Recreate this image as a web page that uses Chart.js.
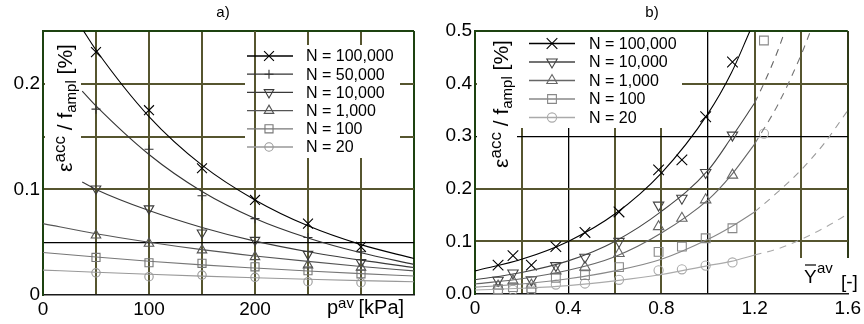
<!DOCTYPE html>
<html><head><meta charset="utf-8">
<script src="https://cdn.jsdelivr.net/npm/chart.js@4.4.1/dist/chart.umd.min.js"></script>
<style>
html,body{margin:0;padding:0;background:#fff;}
#wrap{position:relative;width:864px;height:324px;overflow:hidden;}
.pane{position:absolute;top:0;width:432px;height:324px;}
</style></head><body>
<div id="wrap">
<div class="pane" style="left:0"><canvas id="ca" width="432" height="324"></canvas></div>
<div class="pane" style="left:432px"><canvas id="cb" width="432" height="324"></canvas></div>
</div>
<script>
// ---------- Panel a) data ----------
const aPressure = [50, 100, 150, 200, 250, 300];
const aMeas100k = [0.230, 0.175, 0.120, 0.090, 0.0676, 0.0456];
const aMeas50k  = [0.176, 0.138, 0.094, 0.0723, 0.0544, 0.041];
const aMeas10k  = [0.1006, 0.0818, 0.059, 0.052, 0.0387, 0.031];
const aMeas1k   = [0.0566, 0.0488, 0.0425, 0.0361, 0.0283, 0.026];
const aMeas100  = [0.0356, 0.0305, 0.030, 0.0267, 0.023, 0.020];
const aMeas20   = [0.021, 0.0173, 0.0189, 0.0167, 0.0126, 0.0116];
const aFitXHigh = [37, 50, 100, 150, 200, 250, 300, 350];
const aFitXLow  = [0, 50, 100, 150, 200, 250, 300, 350];
const aFit100k = [0.252, 0.232, 0.169, 0.123, 0.090, 0.0655, 0.0477, 0.0345];
const aFit50k  = [0.193, 0.179, 0.133, 0.098, 0.0725, 0.054, 0.040, 0.029];
const aFit10k  = [0.107, 0.100, 0.080, 0.064, 0.051, 0.041, 0.033, 0.026];
const aFit1k   = [0.0676, 0.058, 0.050, 0.043, 0.037, 0.0318, 0.027, 0.0228];
const aFit100  = [0.0403, 0.036, 0.032, 0.0285, 0.0255, 0.0227, 0.0202, 0.018];
const aFit20   = [0.0236, 0.0215, 0.0196, 0.0179, 0.0163, 0.0149, 0.0136, 0.0126];
const aXTickLabels = [0, 100, 200];
const aYTickLabels = [0, 0.1, 0.2];
const aLegendLabels = ['N = 100,000', 'N = 50,000', 'N = 10,000', 'N = 1,000', 'N = 100', 'N = 20'];

// ---------- Panel b) data ----------
const bYav = [0.099, 0.163, 0.242, 0.347, 0.472, 0.618, 0.788, 0.888, 0.99, 1.105];
const bMeas100k = [0.055, 0.073, 0.055, 0.090, 0.117, 0.156, 0.236, 0.255, 0.337, 0.441];
const bMeas10k  = [0.026, 0.040, 0.027, 0.054, 0.070, 0.100, 0.169, 0.182, 0.231, 0.302];
const bMeas1k   = [0.015, 0.025, 0.017, 0.044, 0.051, 0.077, 0.128, 0.144, 0.179, 0.226];
const bMeas100  = [0.009, 0.013, 0.011, 0.031, 0.036, 0.051, 0.080, 0.090, 0.106, 0.125];
const bMeas20   = [0.006, 0.008, 0.007, 0.018, 0.020, 0.027, 0.045, 0.047, 0.054, 0.060];
const bExtraX = [1.24];
const bExtra100 = [0.482];
const bExtra20 = [0.305];
const bFitX100k = [0, 0.2, 0.4, 0.6, 0.8, 1.0, 1.1, 1.18];
const bFitX = [0, 0.2, 0.4, 0.6, 0.8, 1.0, 1.1, 1.2];
const bFit100k = [0.044, 0.066, 0.100, 0.152, 0.230, 0.343, 0.420, 0.500];
const bFit10k  = [0.027, 0.041, 0.063, 0.100, 0.157, 0.235, 0.297, 0.363];
const bFit1k   = [0.019, 0.029, 0.045, 0.071, 0.116, 0.179, 0.226, 0.285];
const bFit100  = [0.013, 0.019, 0.029, 0.044, 0.066, 0.104, 0.128, 0.156];
const bFit20   = [0.0076, 0.011, 0.016, 0.025, 0.037, 0.054, 0.062, 0.074];
const bDashX10k = [1.2, 1.25, 1.3, 1.33];
const bDash10k  = [0.363, 0.41, 0.463, 0.50];
const bDashX1k  = [1.2, 1.3, 1.4, 1.44];
const bDash1k   = [0.285, 0.36, 0.455, 0.50];
const bDashX    = [1.2, 1.3, 1.4, 1.5, 1.6];
const bDash100  = [0.156, 0.194, 0.236, 0.287, 0.349];
const bDash20   = [0.074, 0.086, 0.104, 0.126, 0.152];
const bXTickLabels = [0, 0.4, 0.8, 1.2, 1.6];
const bLegendLabels = ['N = 100,000', 'N = 10,000', 'N = 1,000', 'N = 100', 'N = 20'];

// ---------- styling ----------
const FONT = '"Liberation Sans", Arial, Helvetica, sans-serif';
const OLIVE = '#56552f';
const DKGREEN = '#1d4210';
const TRANSP = 'rgba(0,0,0,0)';
const pts = (xs, ys) => xs.map((x, i) => ({x: x, y: ys[i]}));

function curve(xs, ys, color, dash) {
  return {type: 'scatter', data: pts(xs, ys), showLine: true, pointRadius: 0, pointHoverRadius: 0,
    borderColor: color, borderWidth: 1.1, borderDash: dash || [], cubicInterpolationMode: 'monotone', fill: false};
}
function marks(xs, ys, color, style, r, rot) {
  return {type: 'scatter', data: pts(xs, ys), showLine: false, pointStyle: style, pointRadius: r,
    pointRotation: rot || 0, pointBorderColor: color, pointBackgroundColor: TRANSP, pointBorderWidth: 1.1,
    borderColor: color, backgroundColor: TRANSP};
}
function richText(ctx, parts, x, y) {
  let cx = x;
  parts.forEach(p => {
    ctx.font = p.s + 'px ' + FONT;
    ctx.fillText(p.t, cx, y + (p.dy || 0));
    cx += ctx.measureText(p.t).width;
  });
  return cx;
}
function richWidth(ctx, parts) {
  let w = 0;
  parts.forEach(p => { ctx.font = p.s + 'px ' + FONT; w += ctx.measureText(p.t).width; });
  return w;
}
function yTitle(ctx, bx, cy) {
  const parts = [{t: 'ε', s: 21}, {t: 'acc', s: 17, dy: -7}, {t: ' / f', s: 21}, {t: 'ampl', s: 15, dy: 4}, {t: ' [%]', s: 21}];
  ctx.save();
  ctx.translate(bx, cy);
  ctx.rotate(-Math.PI / 2);
  ctx.fillStyle = '#000';
  ctx.textBaseline = 'alphabetic';
  ctx.textAlign = 'left';
  const w = richWidth(ctx, parts);
  richText(ctx, parts, -w / 2, 0);
  ctx.restore();
}
function legend(ctx, items, x0, x1, xm, xt, y0, dy) {
  ctx.save();
  items.forEach((it, i) => {
    const y = y0 + i * dy;
    ctx.strokeStyle = it.color; ctx.lineWidth = 1.3; ctx.setLineDash([]);
    ctx.beginPath(); ctx.moveTo(x0, y); ctx.lineTo(x1, y); ctx.stroke();
    ctx.fillStyle = TRANSP; ctx.lineWidth = 1.1;
    Chart.helpers.drawPoint(ctx, {pointStyle: it.ps, radius: it.r, rotation: it.rot || 0, borderWidth: 1.1}, xm, y);
    ctx.fillStyle = '#000'; ctx.font = '16px ' + FONT; ctx.textBaseline = 'middle'; ctx.textAlign = 'left';
    ctx.fillText(it.label, xt, y + 1);
  });
  ctx.restore();
}
function near(v, t) { return Math.abs(v - t) < 1e-6; }

// ---------- Panel a ----------
const aCols = ['#000', '#333', '#3a3a3a', '#555', '#777', '#999'];
const aStyles = [['crossRot', 7, 0], ['cross', 4.5, 0], ['triangle', 5.5, 180], ['triangle', 5.5, 0], ['rect', 5.7, 0], ['circle', 4.2, 0]];
const aMeas = [aMeas100k, aMeas50k, aMeas10k, aMeas1k, aMeas100, aMeas20];
const aFits = [[aFitXHigh, aFit100k], [aFitXHigh, aFit50k], [aFitXHigh, aFit10k], [aFitXLow, aFit1k], [aFitXLow, aFit100], [aFitXLow, aFit20]];
const aDatasets = [];
aFits.forEach((f, i) => aDatasets.push(curve(f[0], f[1], aCols[i])));
aMeas.forEach((m, i) => aDatasets.push(marks(aPressure, m, aCols[i], aStyles[i][0], aStyles[i][1], aStyles[i][2])));

const aPlugin = {
  id: 'aDeco',
  beforeDatasetsDraw(chart) {
    const ctx = chart.ctx, ca = chart.chartArea, xs = chart.scales.x;
    ctx.save();
    ctx.fillStyle = '#fff';
    ctx.fillRect(45, ca.top + 1, 36, 147);        // y-title box
    ctx.fillRect(245, 45, 155, 113);               // legend box
    ctx.strokeStyle = OLIVE; ctx.lineWidth = 2;
    const x200 = xs.getPixelForValue(200);
    ctx.beginPath(); ctx.moveTo(x200, ca.top); ctx.lineTo(x200, 160); ctx.stroke();
    ctx.restore();
  },
  afterDraw(chart) {
    const ctx = chart.ctx;
    ctx.save();
    ctx.fillStyle = '#000'; ctx.font = '15px ' + FONT; ctx.textAlign = 'center'; ctx.textBaseline = 'middle';
    ctx.fillText('a)', 223, 13);
    yTitle(ctx, 72, 108);
    ctx.textAlign = 'left'; ctx.textBaseline = 'alphabetic';
    let x = richText(ctx, [{t: 'p', s: 20}, {t: 'av', s: 15, dy: -6}], 327, 314);
    richText(ctx, [{t: ' [kPa]', s: 20}], x - 1, 314);
    ctx.restore();
    legend(ctx, aLegendLabels.map((l, i) => ({label: l, color: aCols[i], ps: aStyles[i][0], r: aStyles[i][1], rot: aStyles[i][2]})),
      247, 293, 269, 306, 56, 18.2);
  }
};

new Chart(document.getElementById('ca'), {
  type: 'scatter',
  data: {datasets: aDatasets},
  plugins: [aPlugin],
  options: {
    responsive: false, animation: false, devicePixelRatio: 1,
    layout: {padding: {top: 31, right: 18, left: 0, bottom: 0}},
    plugins: {legend: {display: false}, tooltip: {enabled: false}, title: {display: false}},
    scales: {
      x: {type: 'linear', min: 0, max: 350,
        afterFit: s => { s.height = 29; },
        ticks: {stepSize: 50, autoSkip: false, maxRotation: 0, padding: 3, color: '#000', font: {family: FONT, size: 19},
          callback: v => aXTickLabels.some(t => near(v, t)) ? String(v) : ''},
        grid: {drawTicks: false,
          color: c => near(c.tick.value, 0) ? TRANSP : (near(c.tick.value, 350) ? DKGREEN : OLIVE),
          lineWidth: 2},
        border: {color: '#1a1a1a', width: 1.5}},
      y: {type: 'linear', min: 0, max: 0.25,
        afterFit: s => { s.width = 43; },
        ticks: {stepSize: 0.05, autoSkip: false, padding: 3, color: '#000', font: {family: FONT, size: 19},
          callback: v => aYTickLabels.some(t => near(v, t)) ? (near(v, 0) ? '0' : v.toFixed(1)) : ''},
        grid: {drawTicks: false,
          color: c => { const v = c.tick.value; if (near(v, 0)) return TRANSP; if (near(v, 0.25)) return DKGREEN; if (near(v, 0.05)) return '#000'; return OLIVE; },
          lineWidth: c => near(c.tick.value, 0.05) ? 1.3 : 2},
        border: {color: DKGREEN, width: 2}}
    }
  }
});

// ---------- Panel b ----------
const bCols = ['#000', '#444', '#666', '#888', '#aaa'];
const bStyles = [['crossRot', 7.5, 0], ['triangle', 6, 180], ['triangle', 6, 0], ['rect', 6.2, 0], ['circle', 4.6, 0]];
const bMeas = [bMeas100k, bMeas10k, bMeas1k, bMeas100, bMeas20];
const bDatasets = [
  curve(bFitX100k, bFit100k, bCols[0]),
  curve(bFitX, bFit10k, bCols[1]),
  curve(bFitX, bFit1k, bCols[2]),
  curve(bFitX, bFit100, bCols[3]),
  curve(bFitX, bFit20, bCols[4]),
  curve(bDashX10k, bDash10k, '#666', [7, 6]),
  curve(bDashX1k, bDash1k, '#777', [7, 6]),
  curve(bDashX, bDash100, '#999', [7, 6]),
  curve(bDashX, bDash20, '#aaa', [7, 6])
];
bMeas.forEach((m, i) => bDatasets.push(marks(bYav, m, bCols[i], bStyles[i][0], bStyles[i][1], bStyles[i][2])));
bDatasets.push(marks(bExtraX, bExtra100, bCols[3], 'rect', 6.2, 0));
bDatasets.push(marks(bExtraX, bExtra20, bCols[4], 'circle', 4.6, 0));

const bPlugin = {
  id: 'bDeco',
  beforeDatasetsDraw(chart) {
    const ctx = chart.ctx, ca = chart.chartArea;
    ctx.save();
    ctx.fillStyle = '#fff';
    ctx.fillRect(45, ca.top + 1, 40, 141);     // y-title box
    ctx.fillRect(85, ca.top + 1, 165, 96);     // legend box
    ctx.fillRect(368, 258, 64, 35);            // x-label box
    ctx.restore();
  },
  afterDraw(chart) {
    const ctx = chart.ctx;
    ctx.save();
    ctx.fillStyle = '#000'; ctx.font = '15px ' + FONT; ctx.textAlign = 'center'; ctx.textBaseline = 'middle';
    ctx.fillText('b)', 220, 13);
    yTitle(ctx, 76, 104);
    ctx.textAlign = 'left'; ctx.textBaseline = 'alphabetic';
    ctx.font = '19px ' + FONT;
    ctx.fillText('Y', 372, 283);
    ctx.strokeStyle = '#000'; ctx.lineWidth = 1.2;
    ctx.beginPath(); ctx.moveTo(373, 265); ctx.lineTo(384, 265); ctx.stroke();
    ctx.font = '15px ' + FONT; ctx.fillText('av', 385, 273);
    ctx.font = '19px ' + FONT; ctx.fillText('[-]', 409, 288);
    ctx.restore();
    legend(ctx, bLegendLabels.map((l, i) => ({label: l, color: bCols[i], ps: bStyles[i][0], r: bStyles[i][1], rot: bStyles[i][2]})),
      97, 143, 120, 157, 43.5, 18.5);
  }
};

new Chart(document.getElementById('cb'), {
  type: 'scatter',
  data: {datasets: bDatasets},
  plugins: [bPlugin],
  options: {
    responsive: false, animation: false, devicePixelRatio: 1,
    layout: {padding: {top: 31, right: 15, left: 0, bottom: 0}},
    plugins: {legend: {display: false}, tooltip: {enabled: false}, title: {display: false}},
    scales: {
      x: {type: 'linear', min: 0, max: 1.6,
        afterFit: s => { s.height = 30; },
        ticks: {stepSize: 0.2, autoSkip: false, maxRotation: 0, padding: 3, color: '#000', font: {family: FONT, size: 19},
          callback: v => bXTickLabels.some(t => near(v, t)) ? (near(v, 0) ? '0' : v.toFixed(1)) : ''},
        grid: {drawTicks: false,
          color: c => { const v = c.tick.value; if (near(v, 0)) return TRANSP; if (near(v, 1.6)) return '#2e3a18'; if (near(v, 0.4) || near(v, 1.0)) return '#000'; return OLIVE; },
          lineWidth: c => { const v = c.tick.value; return (near(v, 0.4) || near(v, 1.0)) ? 1.3 : 2; }},
        border: {color: '#1a1a1a', width: 1.5}},
      y: {type: 'linear', min: 0, max: 0.5,
        afterFit: s => { s.width = 43; },
        ticks: {stepSize: 0.1, autoSkip: false, padding: 3, color: '#000', font: {family: FONT, size: 19},
          callback: v => v.toFixed(1)},
        grid: {drawTicks: false,
          color: c => { const v = c.tick.value; if (near(v, 0)) return TRANSP; if (near(v, 0.5)) return DKGREEN; if (near(v, 0.3)) return '#000'; return OLIVE; },
          lineWidth: c => near(c.tick.value, 0.3) ? 1.3 : 2},
        border: {color: DKGREEN, width: 2}}
    }
  }
});
</script>
</body></html>
